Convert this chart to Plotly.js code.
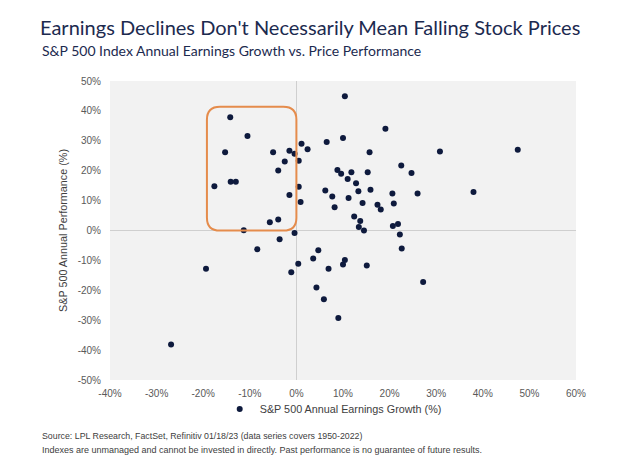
<!DOCTYPE html>
<html>
<head>
<meta charset="utf-8">
<script src="https://cdn.plot.ly/plotly-3.0.1.min.js"></script>
<style>html,body{margin:0;padding:0;background:#fff;}#chart{width:630px;height:471px;}</style>
</head>
<body>
<div id="chart"></div>
<script>
// S&P 500 annual earnings growth (%) vs. annual price performance (%), 1950-2022
const earningsGrowth = [
  -14.2, -10.5, -15.3, -5.0, -1.5, -0.4, -2.5, -3.9, -17.6, -14.1, -13.0, -1.5, -5.7, -3.9, -11.3, -0.4,
  0.5, 0.9, 0.5, 1.1, 2.4,
  10.4, 19.1, 10.0, 6.5, 15.7, 30.8, 38.0, 22.5, 24.7, 8.8, 9.6, 11.8, 15.3, 11.0, 12.8, 13.3, 15.9,
  6.2, 7.7, 11.2, 20.6, 26.0, 8.2, 14.2, 17.4, 18.1, 20.9, 12.4, 13.7, 13.4, 14.5, 20.7, 21.8, 22.2,
  -3.6, -8.4, -19.4, -1.1, 0.4, -26.9,
  22.6, 4.7, 3.6, 10.4, 10.0, 15.1, 6.9, 4.3, 5.9, 9.0, 27.2,
  47.5
];
const pricePerformance = [
  37.9, 31.6, 26.2, 26.2, 26.7, 25.7, 23.1, 20.1, 14.8, 16.3, 16.3, 11.9, 2.8, 3.7, 0.1, -0.8,
  14.6, 9.5, 23.3, 29.0, 27.2,
  44.9, 34.0, 30.9, 29.6, 26.2, 26.4, 12.9, 21.7, 19.2, 20.2, 19.0, 19.5, 19.5, 17.2, 15.8, 13.1, 13.6,
  13.4, 11.4, 10.9, 12.4, 12.4, 7.8, 9.2, 8.6, 7.0, 9.0, 4.7, 3.2, 1.2, 0.0, 1.5, 2.2, -1.3,
  -2.9, -6.3, -12.8, -14.0, -11.1, -38.1,
  -6.0, -6.6, -9.4, -9.9, -11.4, -11.7, -12.8, -19.1, -23.0, -29.3, -17.2,
  27.0
];
const tickValues = [-50, -40, -30, -20, -10, 0, 10, 20, 30, 40, 50, 60];
const tickLabels = tickValues.map(v => v + '%');
const seriesName = 'S&P 500 Annual Earnings Growth (%)';
const titleText = "Earnings Declines Don't Necessarily Mean Falling Stock Prices";
const subtitleText = 'S&P 500 Index Annual Earnings Growth vs. Price Performance';
const yTitle = 'S&P 500 Annual Performance (%)';
const sourceText = 'Source: LPL Research, FactSet, Refinitiv 01/18/23 (data series covers 1950-2022)';
const disclaimerText = 'Indexes are unmanaged and cannot be invested in directly. Past performance is no guarantee of future results.';
// highlighted region (earnings declines with positive returns)
const boxX = [-19.2, 0];
const boxY = [0, 41.4];

const navy = '#1c2a4f';
const axisFont = {family: 'Liberation Sans, Arial, sans-serif', size: 10, color: '#595959'};

function roundedBox(x0, x1, y0, y1, rx, ry) {
  return `M ${x0 + rx},${y0} L ${x1 - rx},${y0} Q ${x1},${y0} ${x1},${y0 + ry} ` +
    `L ${x1},${y1 - ry} Q ${x1},${y1} ${x1 - rx},${y1} L ${x0 + rx},${y1} ` +
    `Q ${x0},${y1} ${x0},${y1 - ry} L ${x0},${y0 + ry} Q ${x0},${y0} ${x0 + rx},${y0} Z`;
}

const trace = {
  type: 'scatter', mode: 'markers', name: seriesName,
  x: earningsGrowth, y: pricePerformance,
  marker: {size: 6, color: '#0e1a3d'},
  showlegend: true
};

const layout = {
  width: 630, height: 471,
  margin: {l: 110, r: 54, t: 81, b: 91},
  paper_bgcolor: '#ffffff', plot_bgcolor: '#f2f2f2',
  font: {family: 'Liberation Sans, Arial, sans-serif', color: '#404040'},
  title: {
    text: titleText, xref: 'container', yref: 'container', x: 40/630, xanchor: 'left',
    y: 1 - 28/471, yanchor: 'middle',
    font: {family: 'Lato, sans-serif', size: 20, color: navy}
  },
  xaxis: {
    range: [-40, 60], tickvals: tickValues, ticktext: tickLabels,
    showgrid: false, zeroline: true, zerolinecolor: '#cfcfcf', zerolinewidth: 1,
    showline: false, ticks: 'outside', ticklen: 4, tickcolor: 'rgba(0,0,0,0)',
    tickfont: axisFont, fixedrange: true
  },
  yaxis: {
    range: [-50, 50], tickvals: tickValues, ticktext: tickLabels,
    showgrid: false, zeroline: true, zerolinecolor: '#cfcfcf', zerolinewidth: 1,
    showline: false, ticks: 'outside', ticklen: 6, tickcolor: 'rgba(0,0,0,0)',
    tickfont: axisFont, fixedrange: true,
    title: {text: yTitle, standoff: 7, font: {family: 'Liberation Sans, Arial, sans-serif', size: 10.8, color: '#404040'}}
  },
  showlegend: true,
  legend: {
    orientation: 'h', x: 0.479, xanchor: 'center', y: -0.097, yanchor: 'middle',
    font: {family: 'Liberation Sans, Arial, sans-serif', size: 10.8, color: '#404040'},
    itemwidth: 30, bgcolor: 'rgba(0,0,0,0)'
  },
  shapes: [{
    type: 'path', xref: 'x', yref: 'y',
    path: roundedBox(boxX[0], boxX[1], boxY[0], boxY[1], 2.8, 4.3),
    line: {color: '#e58c4c', width: 2}, fillcolor: 'rgba(0,0,0,0)'
  }],
  annotations: [
    {text: subtitleText, xref: 'paper', yref: 'paper', x: (40 - 110)/466, y: (380 - 50)/299,
     xanchor: 'left', yanchor: 'middle', showarrow: false,
     font: {family: 'Lato, sans-serif', size: 14, color: navy}},
    {text: sourceText, xref: 'paper', yref: 'paper', x: (40 - 110)/466, y: (380 - 436)/299,
     xanchor: 'left', yanchor: 'middle', showarrow: false,
     font: {family: 'Liberation Sans, Arial, sans-serif', size: 8.8, color: '#404040'}},
    {text: disclaimerText, xref: 'paper', yref: 'paper', x: (40 - 110)/466, y: (380 - 450)/299,
     xanchor: 'left', yanchor: 'middle', showarrow: false,
     font: {family: 'Liberation Sans, Arial, sans-serif', size: 9, color: '#404040'}}
  ]
};

Plotly.newPlot('chart', [trace], layout, {displayModeBar: false, staticPlot: true});
</script>
</body>
</html>
